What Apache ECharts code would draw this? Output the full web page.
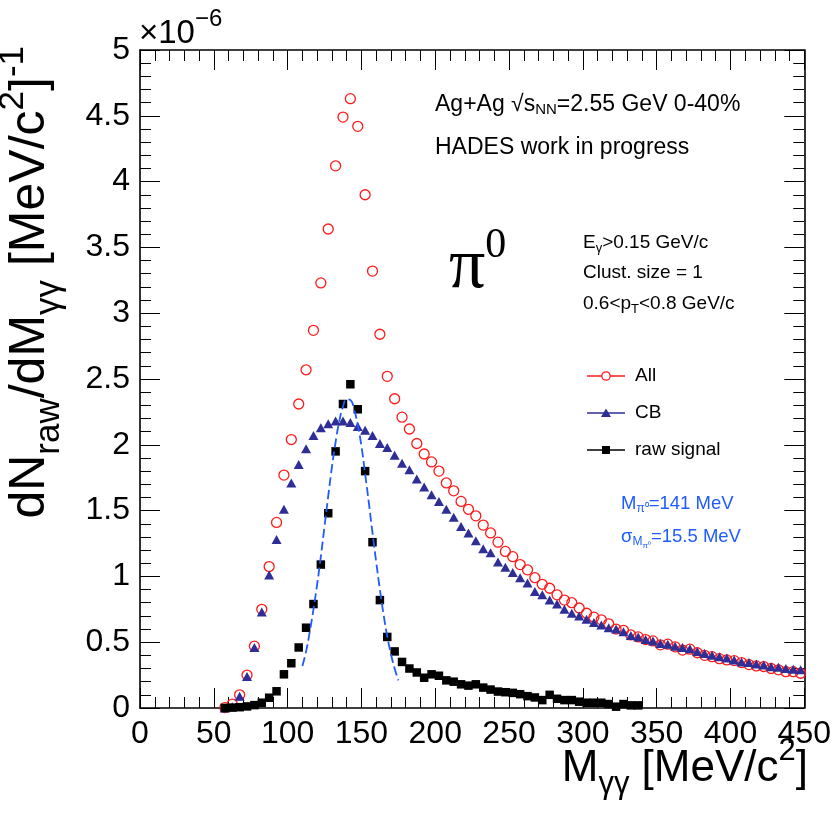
<!DOCTYPE html>
<html><head><meta charset="utf-8">
<script src="https://cdn.jsdelivr.net/npm/echarts@6/dist/echarts.min.js"></script>
<style>html,body{margin:0;padding:0;background:#fff}#c{width:834px;height:814px}</style>
</head><body><div id="c"></div>
<script>
// ---- data (y values in units of 1e-6 per MeV/c^2) ----
const massBins = [57.5,62.5,67.5,72.5,77.5,82.5,87.5,92.5,97.5,102.5,107.5,112.5,117.5,122.5,127.5,132.5,137.5,142.5,147.5,152.5,157.5,162.5,167.5,172.5,177.5,182.5,187.5,192.5,197.5,202.5,207.5,212.5,217.5,222.5,227.5,232.5,237.5,242.5,247.5,252.5,257.5,262.5,267.5,272.5,277.5,282.5,287.5,292.5,297.5,302.5,307.5,312.5,317.5,322.5,327.5,332.5,337.5,342.5,347.5,352.5,357.5,362.5,367.5,372.5,377.5,382.5,387.5,392.5,397.5,402.5,407.5,412.5,417.5,422.5,427.5,432.5,437.5,442.5,447.5];
const allPairs = [0.003,0.03,0.10,0.25,0.47,0.75,1.075,1.41,1.77,
 2.04,2.31,2.57,2.87,3.23,3.64,4.12,4.49,4.63,4.42,
 3.90,3.32,2.84,2.52,2.35,2.21,2.12,2.01,1.93,1.87,
 1.80,1.71,1.65,1.57,1.51,1.46,1.39,1.33,1.26,1.19,
 1.15,1.09,1.05,0.99,0.94,0.91,0.86,0.82,0.80,0.76,
 0.72,0.69,0.67,0.64,0.60,0.59,0.555,0.54,0.52,0.51,
 0.48,0.485,0.465,0.44,0.447,0.42,0.40,0.39,0.375,0.365,
 0.36,0.345,0.33,0.32,0.315,0.30,0.29,0.276,0.276,0.264];
const cbPairs = [0.0,0.01,0.09,0.24,0.46,0.73,1.01,1.28,1.51,
 1.71,1.85,1.97,2.07,2.13,2.16,2.18,2.18,2.17,2.14,
 2.11,2.07,2.01,1.98,1.92,1.86,1.81,1.74,1.68,1.62,
 1.57,1.51,1.45,1.38,1.33,1.27,1.21,1.18,1.11,1.07,
 1.03,0.99,0.95,0.885,0.86,0.82,0.79,0.75,0.72,0.70,
 0.675,0.65,0.63,0.61,0.60,0.58,0.55,0.54,0.52,0.51,
 0.49,0.485,0.47,0.46,0.45,0.43,0.415,0.40,0.39,0.38,
 0.365,0.35,0.345,0.335,0.327,0.314,0.31,0.30,0.295,0.29];
const rawSignal = [0.0,0.003,0.006,0.012,0.022,0.04,0.078,0.127,0.256,
 0.34,0.46,0.61,0.79,1.09,1.48,1.95,2.31,2.46,2.27,
 1.80,1.26,0.82,0.54,0.43,0.35,0.30,0.27,0.23,0.256,
 0.245,0.21,0.20,0.18,0.17,0.18,0.155,0.14,0.125,0.12,
 0.115,0.105,0.09,0.08,0.06,0.10,0.07,0.06,0.06,0.048,
 0.04,0.04,0.04,0.03,0.01,0.03,0.02,0.02];
const fitMass = [110,112.5,115,117.5,120,122.5,125,127.5,130,132.5,135,137.5,140,142.5,145,147.5,150,152.5,155,157.5,160,162.5,165,167.5,170,172.5,175];
const fitValues = [0.32,0.43,0.58,0.75,0.94,1.15,1.38,1.61,1.83,2.02,2.18,2.29,2.345,2.34,2.27,2.15,1.99,1.78,1.56,1.33,1.11,0.90,0.71,0.545,0.41,0.30,0.21];
const xTickValues = [0,50,100,150,200,250,300,350,400,450];
const yTickLabels = ['0','0.5','1','1.5','2','2.5','3','3.5','4','4.5','5'];

// ---- styling helpers ----
const FONT = 'Liberation Sans';
const RED = '#ff1a1a', NAVY = '#2e2e96', BLUE = '#1f5bff';
function tx(x, y, text, size, rich, extraStyle, extraEl) {
  return Object.assign({type:'text', x:x, y:y, silent:true, z:100,
    style: Object.assign({legacy:false, text:text, fontSize:size, fontFamily:FONT, fill:'#000',
      align:'left', verticalAlign:'middle', lineHeight:size, rich:rich||{}}, extraStyle||{})}, extraEl||{});
}
function sub(size, shift, extra){return Object.assign({fontSize:size,fontFamily:FONT,lineHeight:size,verticalAlign:'middle',padding:[2*shift,0,0,0]},extra||{});}
function sup(size, shift, extra){return Object.assign({fontSize:size,fontFamily:FONT,lineHeight:size,verticalAlign:'middle',padding:[0,0,2*shift,0]},extra||{});}

const axisCommon = {
  axisLine:{show:true,onZero:false,lineStyle:{color:'#000',width:1.6}},
  axisTick:{show:true,inside:true,length:20,lineStyle:{color:'#000',width:1}},
  minorTick:{show:true,splitNumber:5,length:11,lineStyle:{color:'#000',width:1}},
  splitLine:{show:false}, minorSplitLine:{show:false}
};

const chart = echarts.init(document.getElementById('c'), null, {renderer:'canvas'});
chart.setOption({
  animation:false,
  backgroundColor:'#fff',
  textStyle:{fontFamily:FONT},
  grid:{left:140,right:27,top:50,bottom:106,containLabel:false},
  xAxis:[
    Object.assign({type:'value',min:0,max:450,interval:50,position:'bottom',
      axisLabel:{show:true,fontSize:32,fontFamily:FONT,color:'#000',margin:10,showMinLabel:true,showMaxLabel:true,
        formatter:function(v){return xTickValues.indexOf(v)>=0?String(v):'';}}},axisCommon),
    Object.assign({type:'value',min:0,max:450,interval:50,position:'top',axisLabel:{show:false}},axisCommon)
  ],
  yAxis:[
    Object.assign({type:'value',min:0,max:5,interval:0.5,position:'left',
      axisLabel:{show:true,fontSize:32,fontFamily:FONT,color:'#000',margin:10,showMinLabel:true,showMaxLabel:true,
        formatter:function(v){return yTickLabels[Math.round(v/0.5)];}}},axisCommon),
    Object.assign({type:'value',min:0,max:5,interval:0.5,position:'right',axisLabel:{show:false}},axisCommon)
  ],
  series:[
    {type:'scatter',name:'All',silent:true,data:massBins.map(function(m,i){return [m,allPairs[i]];}),
      symbol:'circle',symbolSize:10,itemStyle:{color:'rgba(0,0,0,0)',borderColor:RED,borderWidth:1.3,opacity:1},z:2},
    {type:'scatter',name:'CB',silent:true,data:massBins.map(function(m,i){return [m,cbPairs[i]];}),
      symbol:'triangle',symbolSize:[10,9],itemStyle:{color:NAVY,opacity:1},z:3},
    {type:'scatter',name:'raw signal',silent:true,data:rawSignal.map(function(v,i){return [massBins[i],v];}),
      symbol:'rect',symbolSize:8.5,itemStyle:{color:'#000',opacity:1},z:4},
    {type:'line',name:'fit',silent:true,data:fitMass.map(function(m,i){return [m,fitValues[i]];}),
      smooth:true,showSymbol:false,symbol:'none',lineStyle:{color:BLUE,width:1.8,type:[9,4]},z:5}
  ],
  graphic:[
    // axis titles
    tx(30, 46, 'dN{s|raw}/dM{s|γγ} [MeV/c{p|2}]{p|-1}', 50,
       {s:sub(35,19), p:sup(35,17)}, {align:'right'}, {rotation:Math.PI/2}),
    tx(808, 769, 'M{s|γγ} [MeV/c{p|2}]', 44, {s:sub(31,15), p:sup(31,18)}, {align:'right'}),
    tx(139, 34, '×10{p|−6}', 33, {p:sup(24,15)}),
    // annotations
    tx(435, 105, 'Ag+Ag √s{s|NN}=2.55 GeV 0-40%', 23, {s:sub(15,5)}),
    tx(435, 148, 'HADES work in progress', 23),
    tx(449, 268, 'π{p|0}', 72, {p:sup(42,22,{fontFamily:'Liberation Serif'})}, {fontFamily:'Liberation Serif'}),
    tx(583, 243, 'E{s|γ}>0.15 GeV/c', 19, {s:sub(13,5)}),
    tx(583, 273, 'Clust. size = 1', 19),
    tx(583, 304, '0.6<p{s|T}<0.8 GeV/c', 19, {s:sub(13,5)}),
    // legend
    {type:'line',silent:true,z:100,shape:{x1:587,y1:376,x2:625,y2:376},style:{stroke:RED,lineWidth:1.3}},
    {type:'circle',silent:true,z:101,shape:{cx:606,cy:376,r:4.2},style:{fill:'#fff',stroke:RED,lineWidth:1.3}},
    {type:'line',silent:true,z:100,shape:{x1:587,y1:413,x2:625,y2:413},style:{stroke:NAVY,lineWidth:1.3}},
    {type:'polygon',silent:true,z:101,shape:{points:[[606,408.5],[601,417],[611,417]]},style:{fill:NAVY}},
    {type:'line',silent:true,z:100,shape:{x1:587,y1:450,x2:625,y2:450},style:{stroke:'#000',lineWidth:1.3}},
    {type:'rect',silent:true,z:101,shape:{x:602,y:446,width:8,height:8},style:{fill:'#000'}},
    tx(635, 376, 'All', 19),
    tx(635, 413, 'CB', 19),
    tx(635, 450, 'raw signal', 19),
    tx(621, 504, 'M{s|π⁰}=141 MeV', 18.5, {s:sub(12,5)}, {fill:BLUE}),
    tx(621, 537, 'σ{s|M}{t|π⁰}=15.5 MeV', 18.5, {s:sub(12,5), t:sub(8,9)}, {fill:BLUE})
  ]
});
</script>
</body></html>
